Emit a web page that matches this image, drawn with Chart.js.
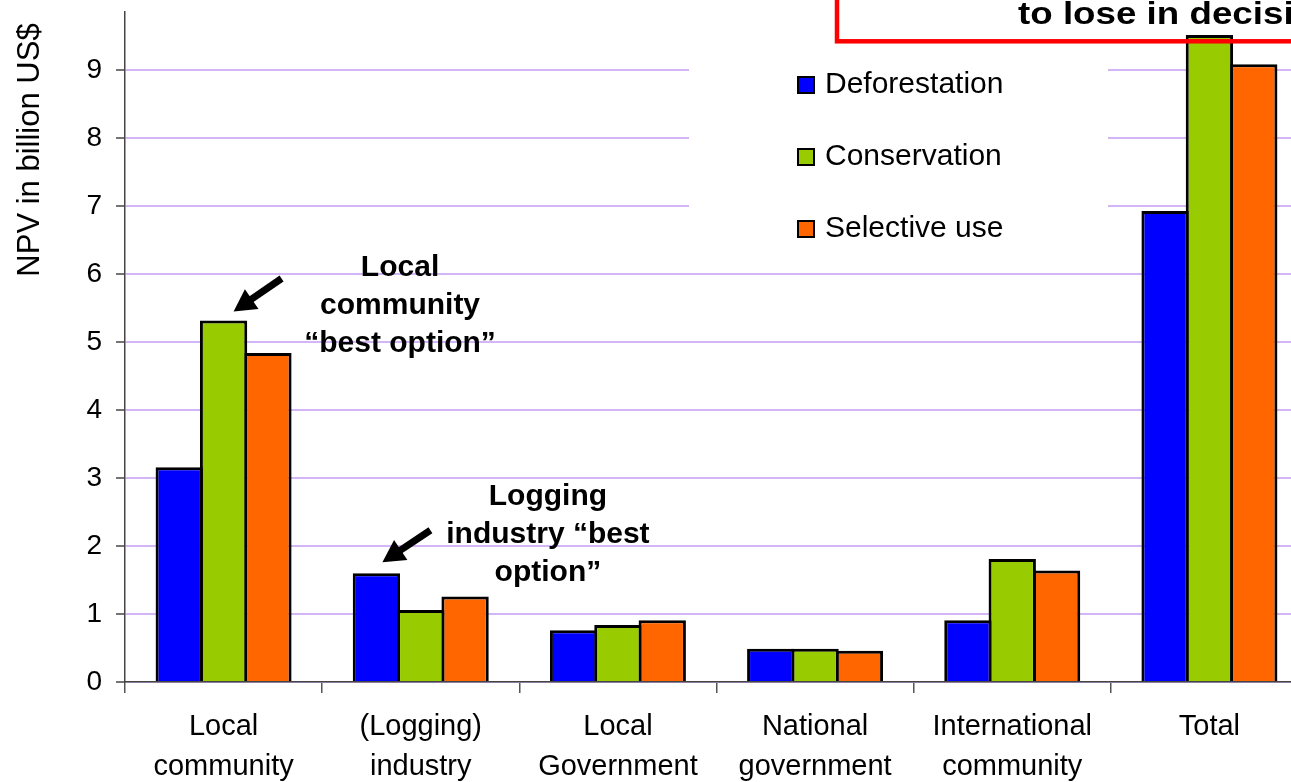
<!DOCTYPE html>
<html>
<head>
<meta charset="utf-8">
<script src="https://cdn.jsdelivr.net/npm/chart.js@4.4.1/dist/chart.umd.min.js"></script>
<style>
  html, body { margin: 0; padding: 0; background: #fff; overflow: hidden; width: 1291px; height: 782px; }
  canvas { display: block; }
</style>
</head>
<body>
<canvas id="npv" width="1308" height="782"></canvas>
<script>
// Net present value of each land-use option, by stakeholder (billion US$)
const categories = [
  ["Local", "community"],
  ["(Logging)", "industry"],
  ["Local", "Government"],
  ["National", "government"],
  ["International", "community"],
  ["Total"]
];
const deforestation = [3.16, 1.60, 0.76, 0.49, 0.91, 6.93];
const conservation  = [5.32, 1.06, 0.84, 0.49, 1.81, 9.52];
const selectiveUse  = [4.84, 1.26, 0.91, 0.46, 1.64, 9.09];
const yTicks = [0, 1, 2, 3, 4, 5, 6, 7, 8, 9];
const yMax = 9.86;

const seriesNames  = ["Deforestation", "Conservation", "Selective use"];
const seriesColors = ["#0000FF", "#99CC00", "#FF6600"];
const axisTitle = "NPV in billion US$";
const calloutLocal   = ["Local", "community", "\u201Cbest option\u201D"];
const calloutLogging = ["Logging", "industry \u201Cbest", "option\u201D"];
const bannerText = "to lose in decision";

const FONT = "'Liberation Sans', Arial, Helvetica, sans-serif";

function drawArrow(ctx, x1, y1, x2, y2) {
  const ang = Math.atan2(y2 - y1, x2 - x1);
  const head = 22, half = 12;
  const bx = x2 - head * Math.cos(ang), by = y2 - head * Math.sin(ang);
  ctx.strokeStyle = "#000";
  ctx.fillStyle = "#000";
  ctx.lineWidth = 7;
  ctx.lineCap = "butt";
  ctx.beginPath();
  ctx.moveTo(x1, y1);
  ctx.lineTo(bx + 2 * Math.cos(ang), by + 2 * Math.sin(ang));
  ctx.stroke();
  ctx.beginPath();
  ctx.moveTo(x2, y2);
  ctx.lineTo(bx + half * Math.sin(ang), by - half * Math.cos(ang));
  ctx.lineTo(bx - half * Math.sin(ang), by + half * Math.cos(ang));
  ctx.closePath();
  ctx.fill();
}

function drawLines(ctx, lines, cx, firstBaseline, step) {
  lines.forEach((t, i) => ctx.fillText(t, cx, firstBaseline + i * step));
}

const overlay = {
  id: "overlay",
  beforeDatasetsDraw(chart) {
    const ctx = chart.ctx;
    ctx.save();
    // legend panel sits on a white background inside the plot
    ctx.fillStyle = "#fff";
    ctx.fillRect(689, 48, 419, 200);
    ctx.font = "30px " + FONT;
    ctx.textAlign = "left";
    ctx.textBaseline = "alphabetic";
    seriesNames.forEach((name, i) => {
      const base = 93 + i * 72;
      ctx.fillStyle = seriesColors[i];
      ctx.fillRect(798, base - 16, 16, 16);
      ctx.strokeStyle = "#000";
      ctx.lineWidth = 2;
      ctx.strokeRect(798, base - 16, 16, 16);
      ctx.fillStyle = "#000";
      ctx.fillText(name, 825, base);
    });
    ctx.restore();
  },
  afterDatasetsDraw(chart) {
    const ctx = chart.ctx;
    const xs = chart.scales.x, ys = chart.scales.y;
    const catW = xs.getPixelForValue(1) - xs.getPixelForValue(0);
    const atX = v => xs.getPixelForValue(0) + v * catW;
    ctx.save();

    // callouts
    ctx.font = "bold 30px " + FONT;
    ctx.fillStyle = "#000";
    ctx.textAlign = "center";
    ctx.textBaseline = "alphabetic";
    drawLines(ctx, calloutLocal, atX(0.895), ys.getPixelForValue(5.97), 38);
    drawLines(ctx, calloutLogging, atX(1.645), ys.getPixelForValue(2.60), 38);

    const greenBar = chart.getDatasetMeta(1).data[0];
    drawArrow(ctx, greenBar.x + 58, greenBar.y - 42, greenBar.x + 10, greenBar.y - 9);
    const blueBar = chart.getDatasetMeta(0).data[1];
    drawArrow(ctx, blueBar.x + 54, blueBar.y - 43, blueBar.x + 6, blueBar.y - 11);

    // banner box across the top right
    ctx.strokeStyle = "#FF0000";
    ctx.lineWidth = 4.5;
    ctx.strokeRect(837, -20, 700, 61.3);
    ctx.save();
    ctx.translate(1018, 23.5);
    ctx.scale(1.185, 1);
    ctx.font = "bold 31px " + FONT;
    ctx.textAlign = "left";
    ctx.fillStyle = "#000";
    ctx.fillText(bannerText, 0, 0);
    ctx.restore();

    // y axis title
    ctx.translate(39, 150);
    ctx.rotate(-Math.PI / 2);
    ctx.font = "31px " + FONT;
    ctx.textAlign = "center";
    ctx.fillStyle = "#000";
    ctx.fillText(axisTitle, 0, 0);
    ctx.restore();
  }
};

new Chart(document.getElementById("npv"), {
  type: "bar",
  data: {
    labels: categories,
    datasets: [
      { label: seriesNames[0], data: deforestation, backgroundColor: seriesColors[0] },
      { label: seriesNames[1], data: conservation,  backgroundColor: seriesColors[1] },
      { label: seriesNames[2], data: selectiveUse,  backgroundColor: seriesColors[2] }
    ].map(d => Object.assign(d, {
      borderColor: "#000",
      borderWidth: 3,
      categoryPercentage: 0.6745,
      barPercentage: 1.068
    }))
  },
  options: {
    responsive: false,
    animation: false,
    layout: { padding: { top: 12, left: 0, right: 0, bottom: 0 } },
    plugins: {
      legend: { display: false },
      tooltip: { enabled: false }
    },
    scales: {
      x: {
        offset: true,
        afterFit: s => { s.height = 100; s.paddingLeft = 0; s.paddingRight = 0; },
        ticks: {
          font: { family: FONT, size: 29, lineHeight: 1.38 },
          color: "#000",
          padding: 14,
          maxRotation: 0,
          autoSkip: false
        },
        grid: { drawOnChartArea: false, tickLength: 11, color: "#555", lineWidth: 1.5 },
        border: { color: "#444", width: 1.5 }
      },
      y: {
        min: 0,
        max: yMax,
        afterBuildTicks: s => { s.ticks = yTicks.map(v => ({ value: v })); },
        afterFit: s => { s.width = 125; s.paddingTop = 0; s.paddingBottom = 0; },
        ticks: {
          font: { family: FONT, size: 28 },
          color: "#000",
          padding: 14
        },
        grid: { color: "#d4b6f8", lineWidth: 2, tickLength: 9, tickColor: "#444", tickWidth: 1.5 },
        border: { color: "#444", width: 1.5 }
      }
    }
  },
  plugins: [overlay]
});
</script>
</body>
</html>
